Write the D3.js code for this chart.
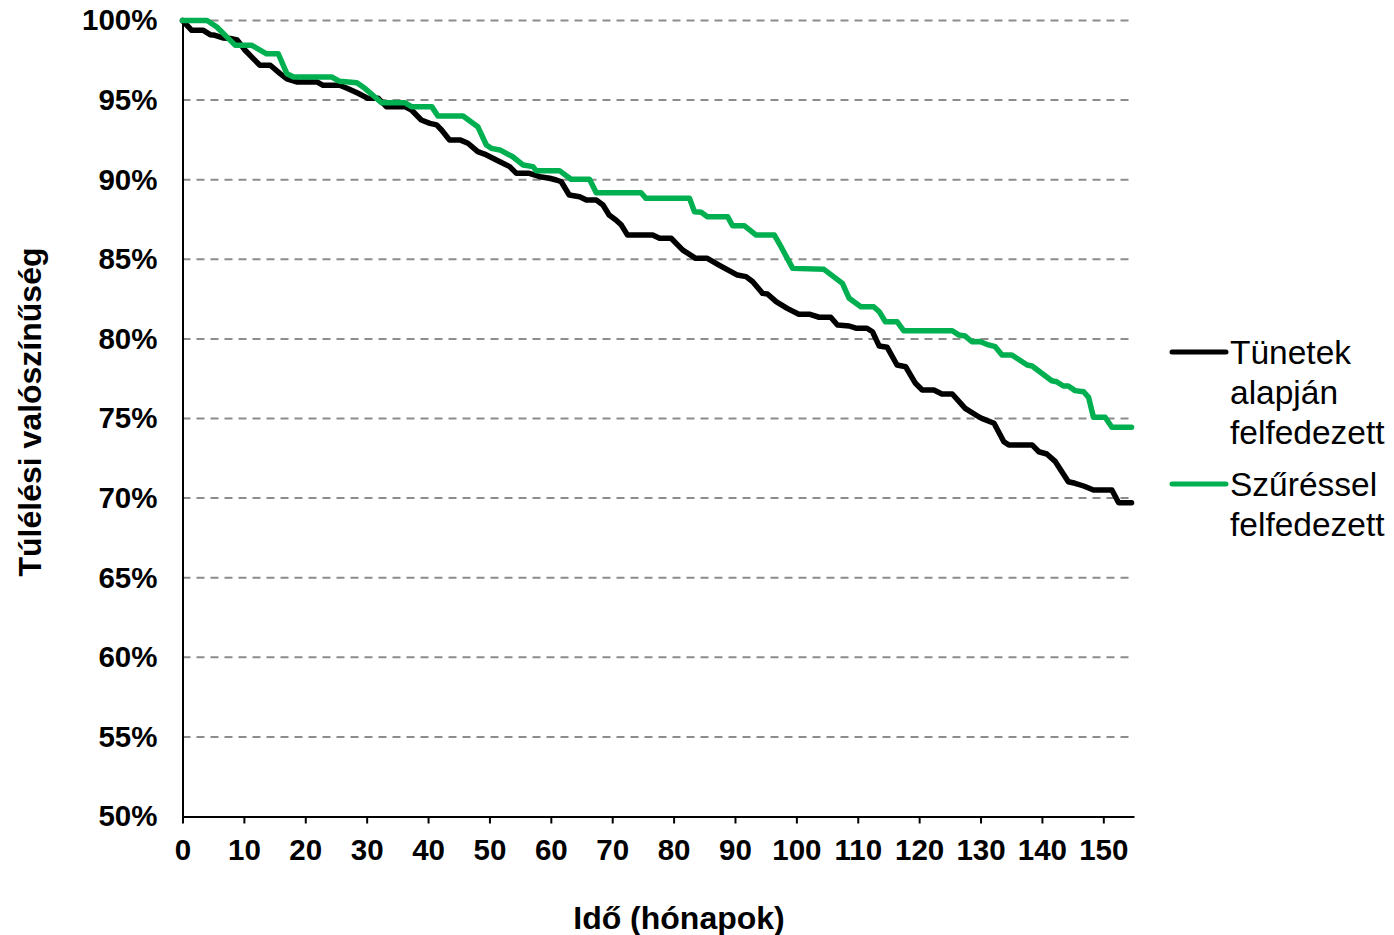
<!DOCTYPE html>
<html>
<head>
<meta charset="utf-8">
<script src="https://cdn.jsdelivr.net/npm/d3@7"></script>
<style>
  html, body { margin: 0; padding: 0; background: #fff; }
  svg { display: block; font-family: "Liberation Sans", Arial, sans-serif; }
</style>
</head>
<body>
<svg id="chart" width="1394" height="935"></svg>
<script>
// ---- Data (months, survival %) ----
const xTicks = [0,10,20,30,40,50,60,70,80,90,100,110,120,130,140,150];
const yTicks = [50,55,60,65,70,75,80,85,90,95,100];
const seriesNames = ["Tünetek alapján felfedezett", "Szűréssel felfedezett"];
const legendLines = [["Tünetek", "alapján", "felfedezett"], ["Szűréssel", "felfedezett"]];

const symptomMonths = [0,1.5,3.4,4.5,5.3,6.7,7.8,8.9,10.2,12.6,14.3,15.9,17.0,18.6,21.9,22.9,25.6,26.9,28.6,30.2,31.9,33.2,36.2,37.3,38.9,40.3,41.4,42.2,43.5,45.2,46.5,48.1,49.2,51.7,53.3,54.4,56.5,58.2,59.8,60.9,61.7,63.0,64.7,65.8,67.4,68.5,69.5,70.6,71.5,72.5,76.6,77.7,79.6,81.5,83.6,85.5,87.4,90.4,91.8,92.9,94.5,95.3,96.7,98.5,100.4,102.1,103.7,105.6,106.7,108.6,109.7,111.5,112.4,113.5,114.8,116.4,117.8,119.4,120.5,122.4,123.7,125.4,127.5,129.7,130.2,132.2,133.8,134.6,138.4,139.5,140.8,142.2,144.3,145.4,146.8,148.4,151.4,152.5,154.6];
const symptomSurv = [100,99.38,99.38,99.11,99.07,98.9,98.87,98.78,98.13,97.19,97.19,96.66,96.34,96.14,96.14,95.93,95.93,95.73,95.43,95.11,95.11,94.59,94.59,94.38,93.75,93.54,93.44,93.12,92.5,92.5,92.29,91.76,91.61,91.13,90.82,90.4,90.4,90.19,90.09,89.98,89.87,89.04,88.93,88.72,88.72,88.41,87.78,87.47,87.15,86.52,86.52,86.32,86.32,85.58,85.06,85.06,84.64,84.01,83.91,83.59,82.86,82.82,82.34,81.92,81.55,81.55,81.36,81.36,80.87,80.81,80.67,80.67,80.45,79.55,79.47,78.36,78.25,77.21,76.79,76.79,76.54,76.54,75.64,75.11,75.01,74.7,73.54,73.34,73.34,72.91,72.77,72.29,71.03,70.93,70.76,70.51,70.51,69.71,69.71];

const screenMonths = [0,4.0,5.6,7.5,8.6,11.3,13.7,15.6,17.0,18.1,24.3,25.6,28.4,29.7,31.3,32.4,36.2,37.3,40.6,41.6,45.7,48.1,49.5,50.3,51.7,53.8,55.5,57.1,57.6,61.4,63.3,66.3,67.4,74.7,75.5,82.6,83.4,84.5,85.5,88.8,89.6,91.5,93.4,96.4,97.5,99.4,104.5,107.5,108.6,110.5,112.6,113.5,114.5,116.4,117.5,125.4,126.5,127.5,128.6,129.9,131.3,132.4,133.5,135.1,137.6,138.4,141.6,142.4,143.5,144.3,145.4,146.8,147.6,148.4,150.3,151.4,154.6];
const screenSurv = [100,100,99.59,98.86,98.44,98.44,97.91,97.91,96.66,96.45,96.45,96.18,96.09,95.74,95.21,94.84,94.84,94.59,94.59,94.0,94.0,93.33,92.18,91.97,91.87,91.44,90.92,90.82,90.57,90.57,90.03,90.03,89.18,89.18,88.83,88.83,87.99,87.95,87.68,87.68,87.11,87.11,86.53,86.53,85.79,84.43,84.37,83.49,82.55,82.02,82.02,81.71,81.08,81.08,80.51,80.51,80.24,80.18,79.82,79.84,79.62,79.51,78.99,78.99,78.36,78.3,77.37,77.31,77.04,77.04,76.75,76.68,76.33,75.08,75.08,74.45,74.45];

const seriesColors = ["#000000", "#00B050"];

// ---- Chart ----
const svg = d3.select("#chart");
const x = d3.scaleLinear().domain([0, 155]).range([182.5, 1134]);
const y = d3.scaleLinear().domain([50, 100]).range([816.5, 20.5]);

// gridlines
svg.append("g").selectAll("line").data(yTicks.filter(d => d > 50)).join("line")
  .attr("x1", x(0)).attr("x2", x(155))
  .attr("y1", d => y(d)).attr("y2", d => y(d))
  .attr("stroke", "#8c8c8c").attr("stroke-width", 2)
  .attr("stroke-dasharray", "8,6");

// x axis
const xAxis = svg.append("g").attr("transform", `translate(0,${y(50)})`)
  .call(d3.axisBottom(x).tickValues(xTicks).tickSize(7).tickSizeOuter(0).tickPadding(16).tickFormat(d3.format("d")));
xAxis.select(".domain").attr("stroke", "#000").attr("stroke-width", 2);
xAxis.selectAll(".tick line").attr("stroke", "#000").attr("stroke-width", 2);
xAxis.selectAll("text").attr("font-size", 29.5).attr("font-weight", "bold").attr("fill", "#000")
  .attr("font-family", "Liberation Sans, Arial, sans-serif");

// y axis
const yAxis = svg.append("g").attr("transform", `translate(${x(0)},0)`)
  .call(d3.axisLeft(y).tickValues(yTicks).tickSize(0).tickSizeOuter(0).tickPadding(25).tickFormat(d => d + "%"));
yAxis.select(".domain").attr("stroke", "#000").attr("stroke-width", 2);
yAxis.selectAll("text").attr("font-size", 29.5).attr("font-weight", "bold").attr("fill", "#000")
  .attr("font-family", "Liberation Sans, Arial, sans-serif");

// lines
const line = d3.line().x(d => x(d[0])).y(d => y(d[1]));
const seriesData = [
  d3.zip(symptomMonths, symptomSurv),
  d3.zip(screenMonths, screenSurv)
];
svg.append("g").selectAll("path").data(seriesData).join("path")
  .attr("d", line)
  .attr("fill", "none")
  .attr("stroke", (d, i) => seriesColors[i])
  .attr("stroke-width", 5.5)
  .attr("stroke-linejoin", "round")
  .attr("stroke-linecap", "round");

// axis titles
svg.append("text")
  .attr("x", 679).attr("y", 929)
  .attr("text-anchor", "middle")
  .attr("font-size", 32).attr("font-weight", "bold")
  .text("Idő (hónapok)");
svg.append("text")
  .attr("transform", "translate(41,412) rotate(-90)")
  .attr("text-anchor", "middle")
  .attr("font-size", 32).attr("font-weight", "bold")
  .text("Túlélési valószínűség");

// legend
const legendY = [352, 484];
const leg = svg.append("g");
legendLines.forEach((lines, i) => {
  leg.append("line")
    .attr("x1", 1172).attr("x2", 1226)
    .attr("y1", legendY[i]).attr("y2", legendY[i])
    .attr("stroke", seriesColors[i]).attr("stroke-width", 5)
    .attr("stroke-linecap", "round");
  lines.forEach((t, j) => {
    leg.append("text")
      .attr("x", 1230).attr("y", legendY[i] + 12 + j * 40)
      .attr("font-size", 33.5).attr("fill", "#000")
      .text(t);
  });
});
</script>
</body>
</html>
